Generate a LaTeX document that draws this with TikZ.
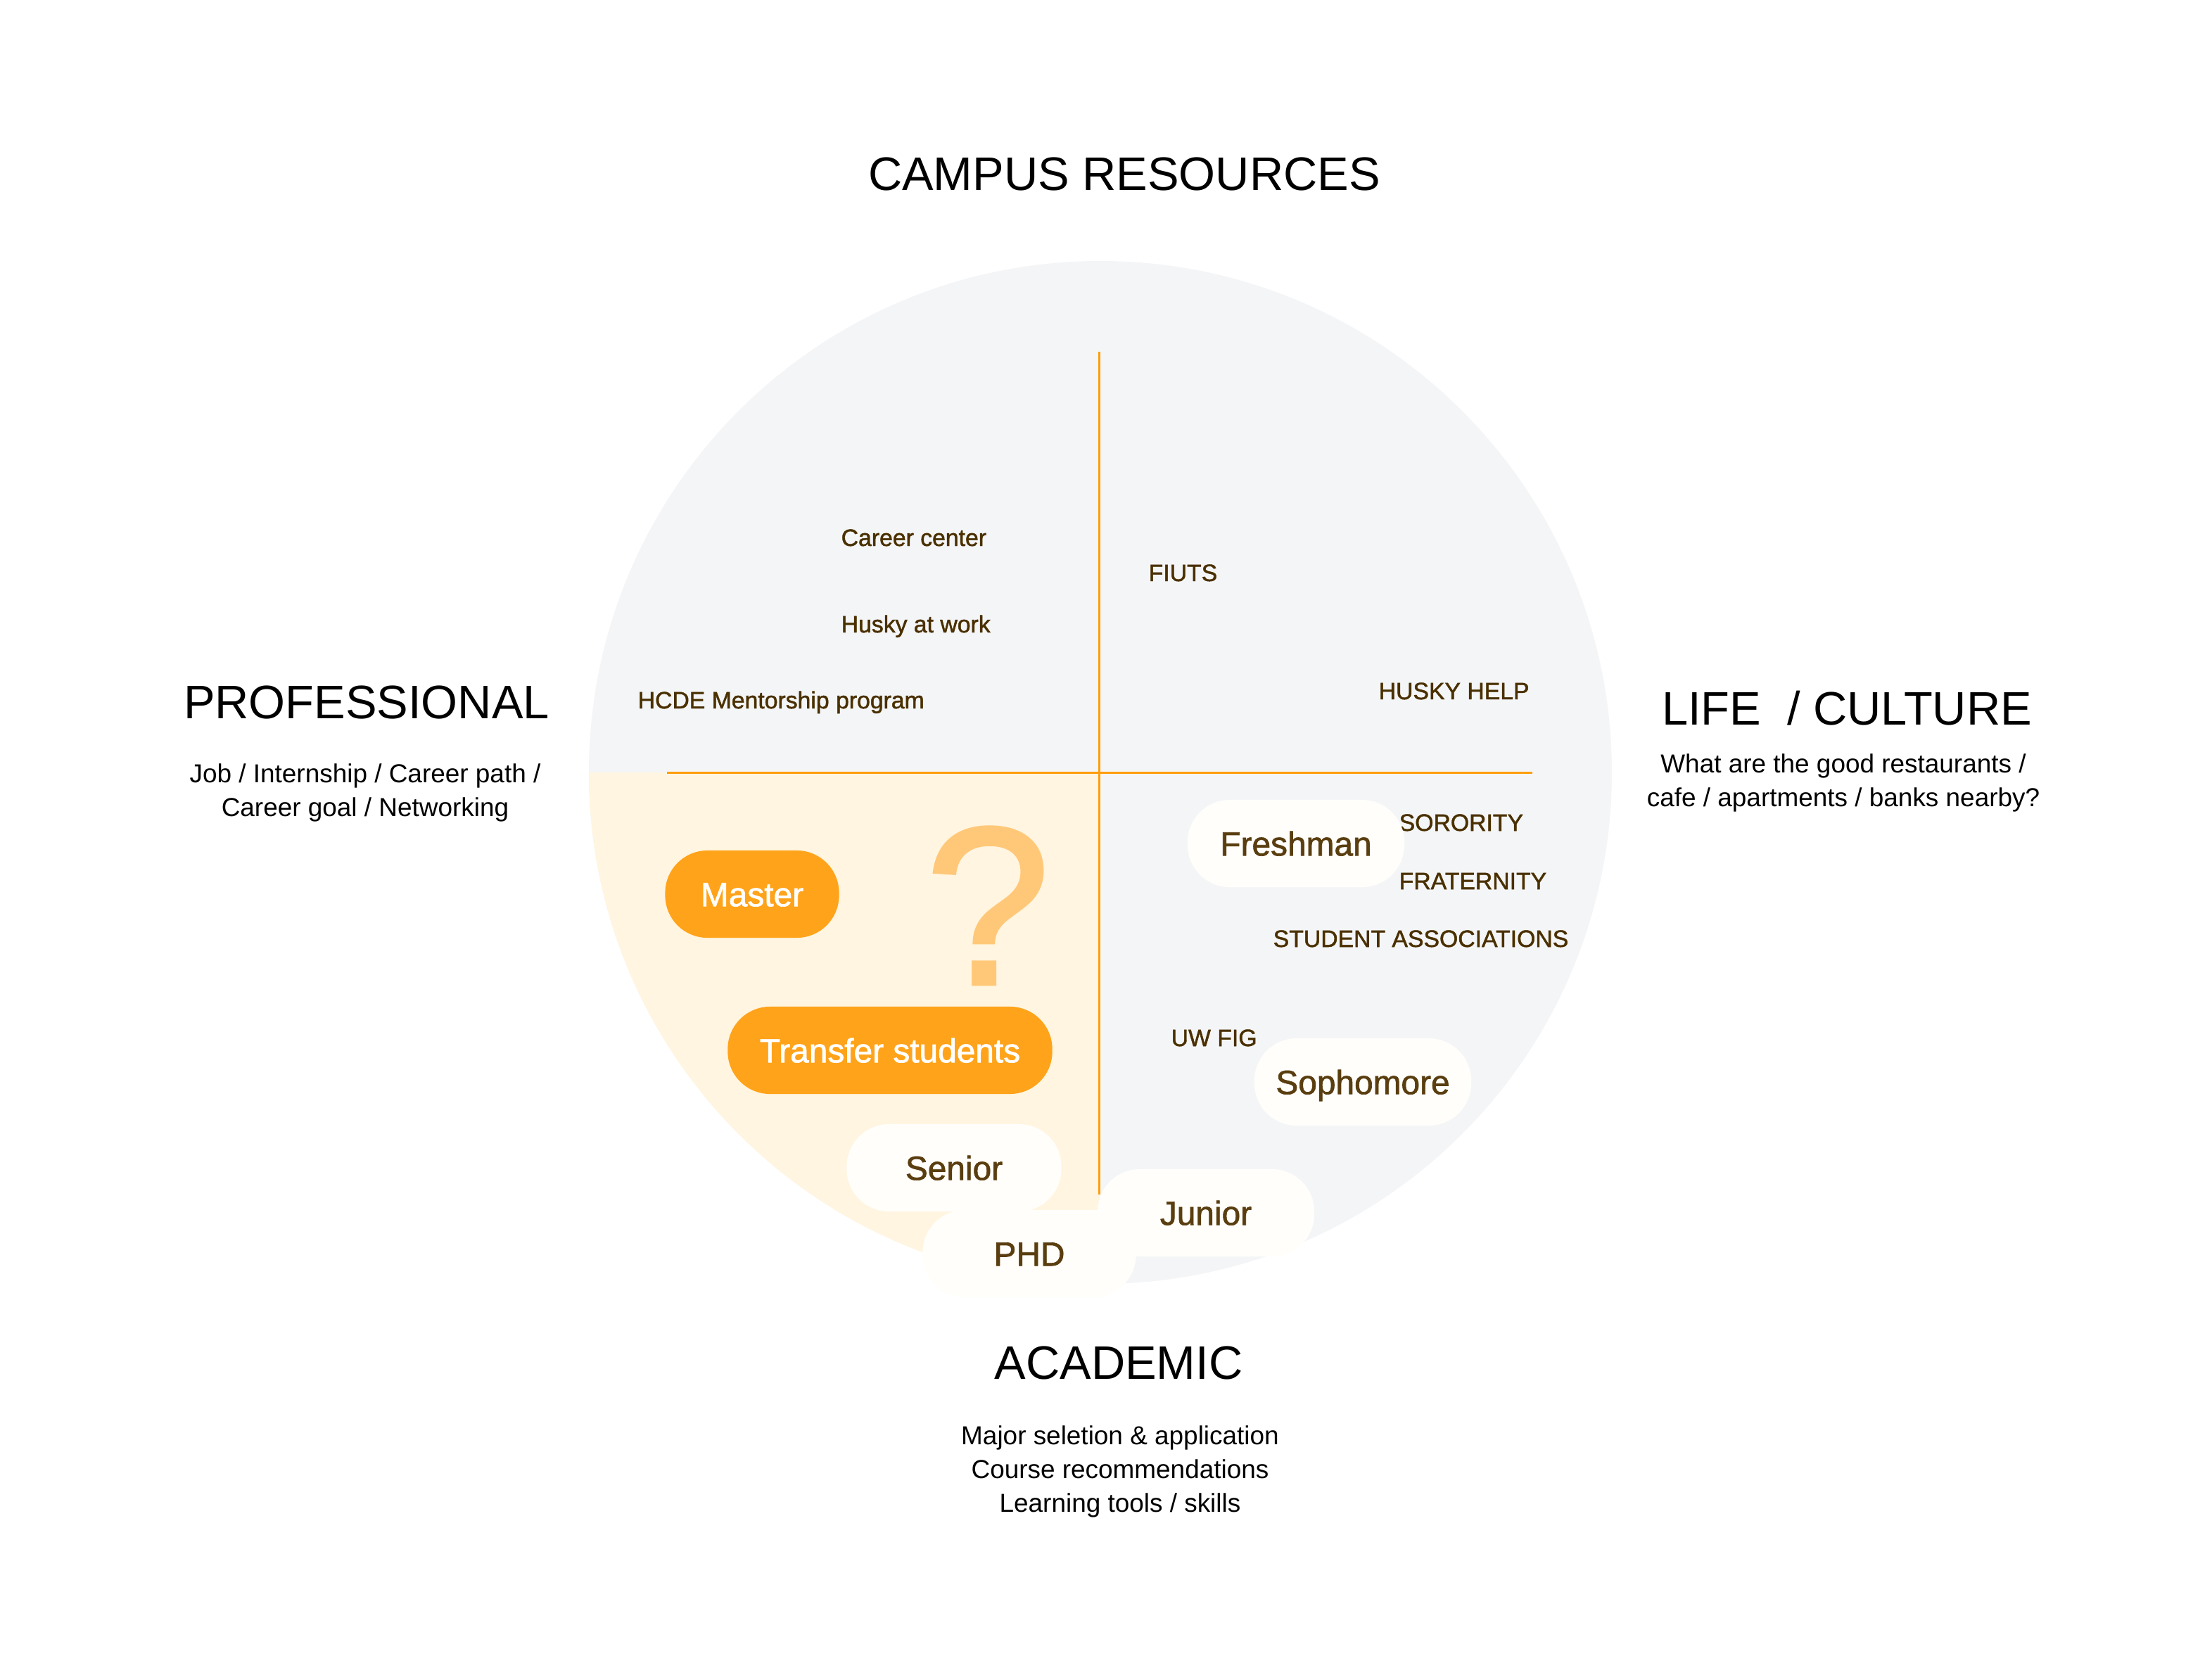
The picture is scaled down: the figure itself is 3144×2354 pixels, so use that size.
\documentclass[tikz,border=0pt]{standalone}
\usepackage{fontspec}
\setmainfont{Liberation Sans}
\newfontfamily\medfont[FakeBold=1.4]{Liberation Sans}
\usetikzlibrary{positioning}

\definecolor{ringgray}{HTML}{F4F5F7}
\definecolor{cream}{HTML}{FFF5E0}
\definecolor{axisorange}{HTML}{FF9D0A}
\definecolor{pillorange}{HTML}{FFA31A}
\definecolor{pillwhite}{HTML}{FFFEFB}
\definecolor{pillbrown}{HTML}{5A3E10}
\definecolor{spotbrown}{HTML}{4A3000}
\definecolor{qmark}{HTML}{FFC878}

\begin{document}
\begin{tikzpicture}[x=0.01cm,y=-0.01cm,
                    title/.style={font=\fontsize{19}{23}\selectfont,anchor=base,inner sep=0pt},
                    sub/.style={font=\fontsize{10.5}{13.7}\selectfont,align=center,inner sep=0pt},
                    spot/.style={font=\medfont\fontsize{9.6}{12}\selectfont,text=spotbrown,anchor=base west,inner sep=0pt},
                    year/.style={fill=pillwhite,rounded corners=0.6cm,minimum height=1.24cm,inner sep=0pt,
                                 text height=9.8pt,text depth=0pt,
                                 font=\medfont\fontsize{13.6}{16}\selectfont,text=pillbrown},
                    level/.style={year,fill=pillorange,text=white},
                    axis/.style={draw=axisorange,line width=0.03cm}]

  \useasboundingbox (0,0) rectangle (3144,2354);

  % the wheel
  \fill[ringgray] (1564,1098) circle[radius=727];
  \begin{scope}
    \clip (1564,1098) circle[radius=727];
    \fill[cream] (800,1098) rectangle (1562,1900);
  \end{scope}

  \coordinate (top) at (1562,500);
  \coordinate (bottom) at (1562,1698);
  \coordinate (left) at (948,1098);
  \coordinate (right) at (2178,1098);
  \draw[axis] (top) -- (bottom);
  \draw[axis] (left) -- (right);

  % titles
  \node[title] (campus) at (1598,270) {CAMPUS RESOURCES};
  \node[title] (prof) at (521,1021) {PROFESSIONAL};
  \node[title] (life) at (2625,1030) {LIFE\ \ / CULTURE};
  \node[title] (acad) at (1590,1960) {ACADEMIC};

  \node[sub] (profsub) at (519,1127) {Job / Internship / Career path /\\Career goal / Networking};
  \node[sub] (lifesub) at (2620,1113) {What are the good restaurants /\\cafe / apartments / banks nearby?};
  \node[sub] (acadsub) at (1592,2092) {Major seletion \& application\\Course recommendations\\Learning tools / skills};

  % resources
  \node[spot] (career) at (1195,776) {Career center};
  \node[spot] (huskywork) at (1195,899) {Husky at work};
  \node[spot] (hcde) at (906,1007) {HCDE Mentorship program};
  \node[spot] (fiuts) at (1632,826) {FIUTS};
  \node[spot] (huskyhelp) at (1959,994) {HUSKY HELP};
  \node[spot] (sorority) at (1988,1181) {SORORITY};
  \node[spot] (fraternity) at (1988,1264) {FRATERNITY};
  \node[spot] (assoc) at (1809,1346) {STUDENT ASSOCIATIONS};
  \node[spot] (uwfig) at (1664,1487) {UW FIG};

  \node[font=\medfont\fontsize{91}{91}\selectfont,text=qmark,anchor=base,inner sep=0pt] (qm) at (1404,1399) {?};

  % students
  \node[year,minimum width=3.08cm] (fresh) at (1842,1199) {Freshman};
  \node[year,minimum width=3.08cm] (soph) at (1937,1538) {Sophomore};
  \node[year,minimum width=3.05cm] (senior) at (1356,1660) {Senior};
  \node[year,minimum width=3.03cm] (phd) at (1463,1782) {PHD};
  \node[year,minimum width=3.08cm] (junior) at (1714,1724) {Junior};
  \node[level,minimum width=2.47cm] (master) at (1069,1271) {Master};
  \node[level,minimum width=4.61cm] (transfer) at (1265,1493) {Transfer students};
\end{tikzpicture}
\end{document}
